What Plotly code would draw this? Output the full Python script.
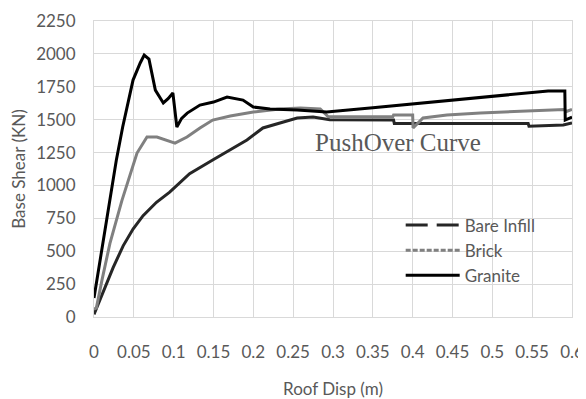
import plotly.graph_objects as go

# ---- data ----
granite_x = [0.0, 0.010, 0.020, 0.028, 0.036, 0.049, 0.058, 0.063, 0.069, 0.077, 0.087, 0.093, 0.099,
             0.104, 0.110, 0.117, 0.133, 0.150, 0.167, 0.187, 0.200, 0.221, 0.255, 0.292,
             0.350, 0.400, 0.450, 0.500, 0.570, 0.591, 0.5915, 0.600]
granite_y = [145, 520, 881, 1191, 1444, 1801, 1931, 1991, 1960, 1725, 1627, 1660, 1703,
             1444, 1510, 1550, 1611, 1634, 1672, 1649, 1596, 1581, 1573, 1558,
             1591, 1620, 1649, 1678, 1718, 1718, 1497, 1520]

brick_x = [0.0, 0.003, 0.010, 0.020, 0.035, 0.045, 0.054, 0.0665, 0.079, 0.1017, 0.1167, 0.133,
           0.149, 0.171, 0.200, 0.233, 0.259, 0.284, 0.294, 0.375, 0.376, 0.400, 0.4005,
           0.413, 0.443, 0.485, 0.590, 0.593, 0.600]
brick_y = [60, 69, 280, 560, 885, 1080, 1246, 1368, 1368, 1322, 1368, 1437,
           1497, 1528, 1558, 1581, 1589, 1581, 1522, 1522, 1535, 1535, 1437,
           1513, 1535, 1551, 1578, 1562, 1578]

bare_x = [0.0, 0.0116, 0.024, 0.0366, 0.049, 0.0616, 0.0784, 0.095, 0.120, 0.149, 0.171,
          0.192, 0.212, 0.233, 0.255, 0.275, 0.296, 0.376, 0.377, 0.545, 0.546, 0.589, 0.600]
bare_y = [20, 197, 375, 541, 669, 770, 872, 949, 1089, 1193, 1269,
          1345, 1437, 1475, 1513, 1520, 1500, 1497, 1470, 1470, 1450, 1459, 1475]

x_ticks = [0, 0.05, 0.1, 0.15, 0.2, 0.25, 0.3, 0.35, 0.4, 0.45, 0.5, 0.55, 0.6]
x_tick_labels = ["0", "0.05", "0.1", "0.15", "0.2", "0.25", "0.3", "0.35", "0.4",
                 "0.45", "0.5", "0.55", "0.6"]
y_ticks = [0, 250, 500, 750, 1000, 1250, 1500, 1750, 2000, 2250]

series_names = ["Bare Infill", "Brick", "Granite"]
# --------------------------------------------

FONT = "Lato"
TXT = "#595959"
GRID = "#d9d9d9"

fig = go.Figure()

# actual curves (solid, as drawn in the reference)
fig.add_trace(go.Scatter(x=bare_x, y=bare_y, mode="lines", showlegend=False,
                         line=dict(color="#262626", width=3)))
fig.add_trace(go.Scatter(x=brick_x, y=brick_y, mode="lines", showlegend=False,
                         line=dict(color="#808080", width=3)))
fig.add_trace(go.Scatter(x=granite_x, y=granite_y, mode="lines", showlegend=False,
                         line=dict(color="#000000", width=3)))

# legend entries (styled as in the reference legend)
fig.add_trace(go.Scatter(x=[None], y=[None], mode="lines", name=series_names[0],
                         line=dict(color="#262626", width=3, dash="22px,9px")))
fig.add_trace(go.Scatter(x=[None], y=[None], mode="lines", name=series_names[1],
                         line=dict(color="#808080", width=3, dash="5px,2px")))
fig.add_trace(go.Scatter(x=[None], y=[None], mode="lines", name=series_names[2],
                         line=dict(color="#000000", width=3)))

fig.add_annotation(x=0.3816, y=1330, xref="x", yref="y", text="PushOver Curve",
                   showarrow=False, xanchor="center", yanchor="middle",
                   font=dict(family="Liberation Serif", size=25, color=TXT))

# the page body has an ~8px margin, so the figure is sized/placed to compensate
fig.update_layout(
    width=578, height=391,
    margin=dict(l=86, r=14, t=13, b=82),
    paper_bgcolor="white", plot_bgcolor="white",
    font=dict(family=FONT, size=17, color=TXT),
    legend=dict(x=0.6416, y=0.37, xanchor="left", yanchor="top",
                bgcolor="rgba(0,0,0,0)", itemwidth=54,
                font=dict(family=FONT, size=17, color=TXT), tracegroupgap=0),
    xaxis=dict(range=[0, 0.6], tickvals=x_ticks, ticktext=x_tick_labels,
               showgrid=True, gridcolor=GRID, gridwidth=1,
               showline=True, linecolor=GRID, linewidth=1, mirror=True,
               zeroline=False, ticks="", ticklabelstandoff=20,
               title=dict(text="Roof Disp (m)", standoff=21,
                          font=dict(family=FONT, size=17, color=TXT)),
               automargin=False),
    yaxis=dict(range=[0, 2250], tickvals=y_ticks,
               showgrid=True, gridcolor=GRID, gridwidth=1,
               showline=True, linecolor=GRID, linewidth=1, mirror=True,
               zeroline=False, ticks="", ticklabelstandoff=14,
               title=dict(text="Base Shear (KN)", standoff=6,
                          font=dict(family=FONT, size=17, color=TXT)),
               automargin=False),
)

fig.write_html("out.html")
